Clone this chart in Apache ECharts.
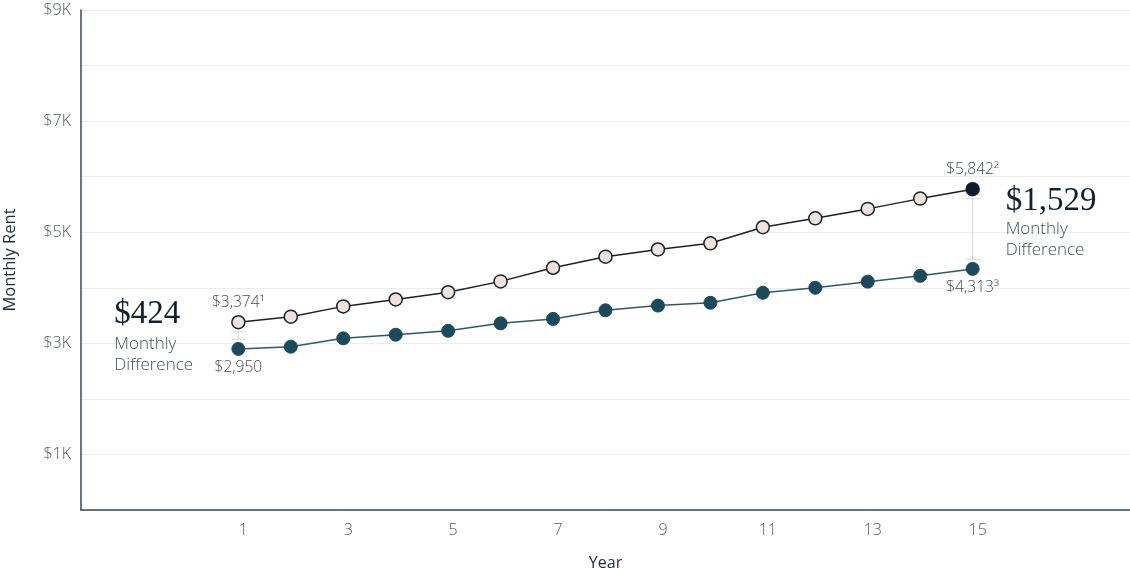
<!DOCTYPE html>
<html>
<head>
<meta charset="utf-8">
<script src="https://cdn.jsdelivr.net/npm/echarts@6/dist/echarts.min.js"></script>
<style>
  html, body { margin: 0; padding: 0; background: #fff; }
  #chart { width: 1130px; height: 568px; }
</style>
</head>
<body>
<div id="chart"></div>
<script>
// ── Data ──
const years = [1, 2, 3, 4, 5, 6, 7, 8, 9, 10, 11, 12, 13, 14, 15];
const rentHigh = [3380, 3480, 3665, 3790, 3920, 4115, 4360, 4560, 4690, 4800, 5090, 5250, 5420, 5605, 5775];
const rentLow = [2900, 2940, 3090, 3155, 3225, 3360, 3440, 3595, 3680, 3730, 3910, 4000, 4110, 4215, 4340];

const tagIndex = [0, 14];
const highTags = ['$3,374\u00b9', '$5,842\u00b2'];
const lowTags = ['$2,950', '$4,313\u00b3'];
const diffTags = ['$424', '$1,529'];
const diffCaption = 'Monthly\nDifference';

const xTickLabels = [1, 3, 5, 7, 9, 11, 13, 15];
const yTickLabels = { 1000: '$1K', 3000: '$3K', 5000: '$5K', 7000: '$7K', 9000: '$9K' };

// ── Style ──
const SANS = '"Open Sans", "Noto Sans", sans-serif';
const SERIF = '"Liberation Serif", "DejaVu Serif", serif';
const C = {
  high: '#1c2128',
  highFill: '#ebe3de',
  highLast: '#0d1b2a',
  low: '#1c4a5c',
  lowLine: '#2c5a6b',
  axis: '#3d4650',
  grid: '#ececec',
  tick: '#4f575f',
  name: '#1e2a36',
  bracket: '#d6d6d6',
  big: '#14202c',
  caption: '#434e59',
};
// per-annotation text placement relative to the bracket: [dx, dyBig, dyCaption]
const NOTE_POS = [[-124, -21, 19], [33, -28, 11]];

const chart = echarts.init(document.getElementById('chart'));

function seriesData(values, tags, pos, dist) {
  return years.map((y, i) => {
    const item = { value: [y, values[i]] };
    const k = tagIndex.indexOf(i);
    if (k >= 0) {
      item.label = {
        show: true, position: pos, distance: dist,
        formatter: tags[k],
        fontFamily: SANS, fontWeight: 300, fontSize: 15.5, color: '#454c54',
      };
    }
    return item;
  });
}

const highData = seriesData(rentHigh, highTags, 'top', 4);
highData[highData.length - 1].itemStyle = { color: C.highLast };

const bracketData = tagIndex.map((i, k) => [years[i], rentHigh[i], rentLow[i], k]);

function renderBracket(params, api) {
  const top = api.coord([api.value(0), api.value(1)]);
  const bot = api.coord([api.value(0), api.value(2)]);
  const k = api.value(3);
  const x = top[0];
  const y1 = top[1] + 9.5;
  const y2 = bot[1] - 9.5;
  const mid = (top[1] + bot[1]) / 2;
  const p = NOTE_POS[k];
  const ls = { stroke: C.bracket, lineWidth: 1 };
  return {
    type: 'group',
    children: [
      { type: 'line', shape: { x1: x, y1: y1, x2: x, y2: y2 }, style: ls },
      { type: 'line', shape: { x1: x - 7, y1: y1, x2: x + 7, y2: y1 }, style: ls },
      { type: 'line', shape: { x1: x - 7, y1: y2, x2: x + 7, y2: y2 }, style: ls },
      {
        type: 'text',
        style: {
          x: x + p[0], y: mid + p[1], text: diffTags[k],
          fontFamily: SERIF, fontSize: 33, fill: C.big,
          align: 'left', verticalAlign: 'middle',
        },
      },
      {
        type: 'text',
        style: {
          x: x + p[0], y: mid + p[2], text: diffCaption,
          fontFamily: SANS, fontWeight: 300, fontSize: 17, lineHeight: 21, fill: C.caption,
          align: 'left', verticalAlign: 'middle',
        },
      },
    ],
  };
}

chart.setOption({
  animation: false,
  backgroundColor: '#fff',
  grid: { left: 81, right: 0, top: 10, bottom: 58, outerBoundsMode: 'none', containLabel: false },
  xAxis: {
    type: 'value', min: -2, max: 18, interval: 1,
    name: 'Year', nameLocation: 'middle', nameGap: 45,
    nameTextStyle: { fontFamily: SANS, fontSize: 16, color: C.name },
    axisLine: { onZero: false, lineStyle: { color: C.axis, width: 1.5 } },
    axisTick: { show: false },
    splitLine: { show: false },
    axisLabel: {
      margin: 12, fontFamily: SANS, fontWeight: 300, fontSize: 16, color: C.tick,
      padding: [0, 0, 0, 10],
      formatter: v => (xTickLabels.includes(v) ? String(v) : ''),
    },
  },
  yAxis: {
    type: 'value', min: 0, max: 9000, interval: 1000,
    name: 'Monthly Rent', nameLocation: 'middle', nameGap: 62,
    nameTextStyle: { fontFamily: SANS, fontSize: 16.5, color: C.name },
    axisLine: { show: true, onZero: false, lineStyle: { color: C.axis, width: 1.5 } },
    axisTick: { show: false },
    splitLine: { lineStyle: { color: C.grid, width: 1 } },
    axisLabel: {
      margin: 10, fontFamily: SANS, fontWeight: 300, fontSize: 16, color: C.tick,
      formatter: v => yTickLabels[v] || '',
    },
  },
  series: [
    {
      type: 'custom', renderItem: renderBracket, clip: false, z: 1,
      encode: { x: 0, y: [1, 2] },
      data: bracketData,
    },
    {
      name: 'Low', type: 'line', z: 3,
      symbol: 'circle', symbolSize: 13,
      lineStyle: { color: C.lowLine, width: 1.5 },
      itemStyle: { color: C.low, borderColor: C.low, borderWidth: 1 },
      data: seriesData(rentLow, lowTags, 'bottom', 4),
    },
    {
      name: 'High', type: 'line', z: 4,
      symbol: 'circle', symbolSize: 13,
      lineStyle: { color: C.high, width: 1.5 },
      itemStyle: { color: C.highFill, borderColor: C.high, borderWidth: 1.5 },
      data: highData,
    },
  ],
});
</script>
</body>
</html>
